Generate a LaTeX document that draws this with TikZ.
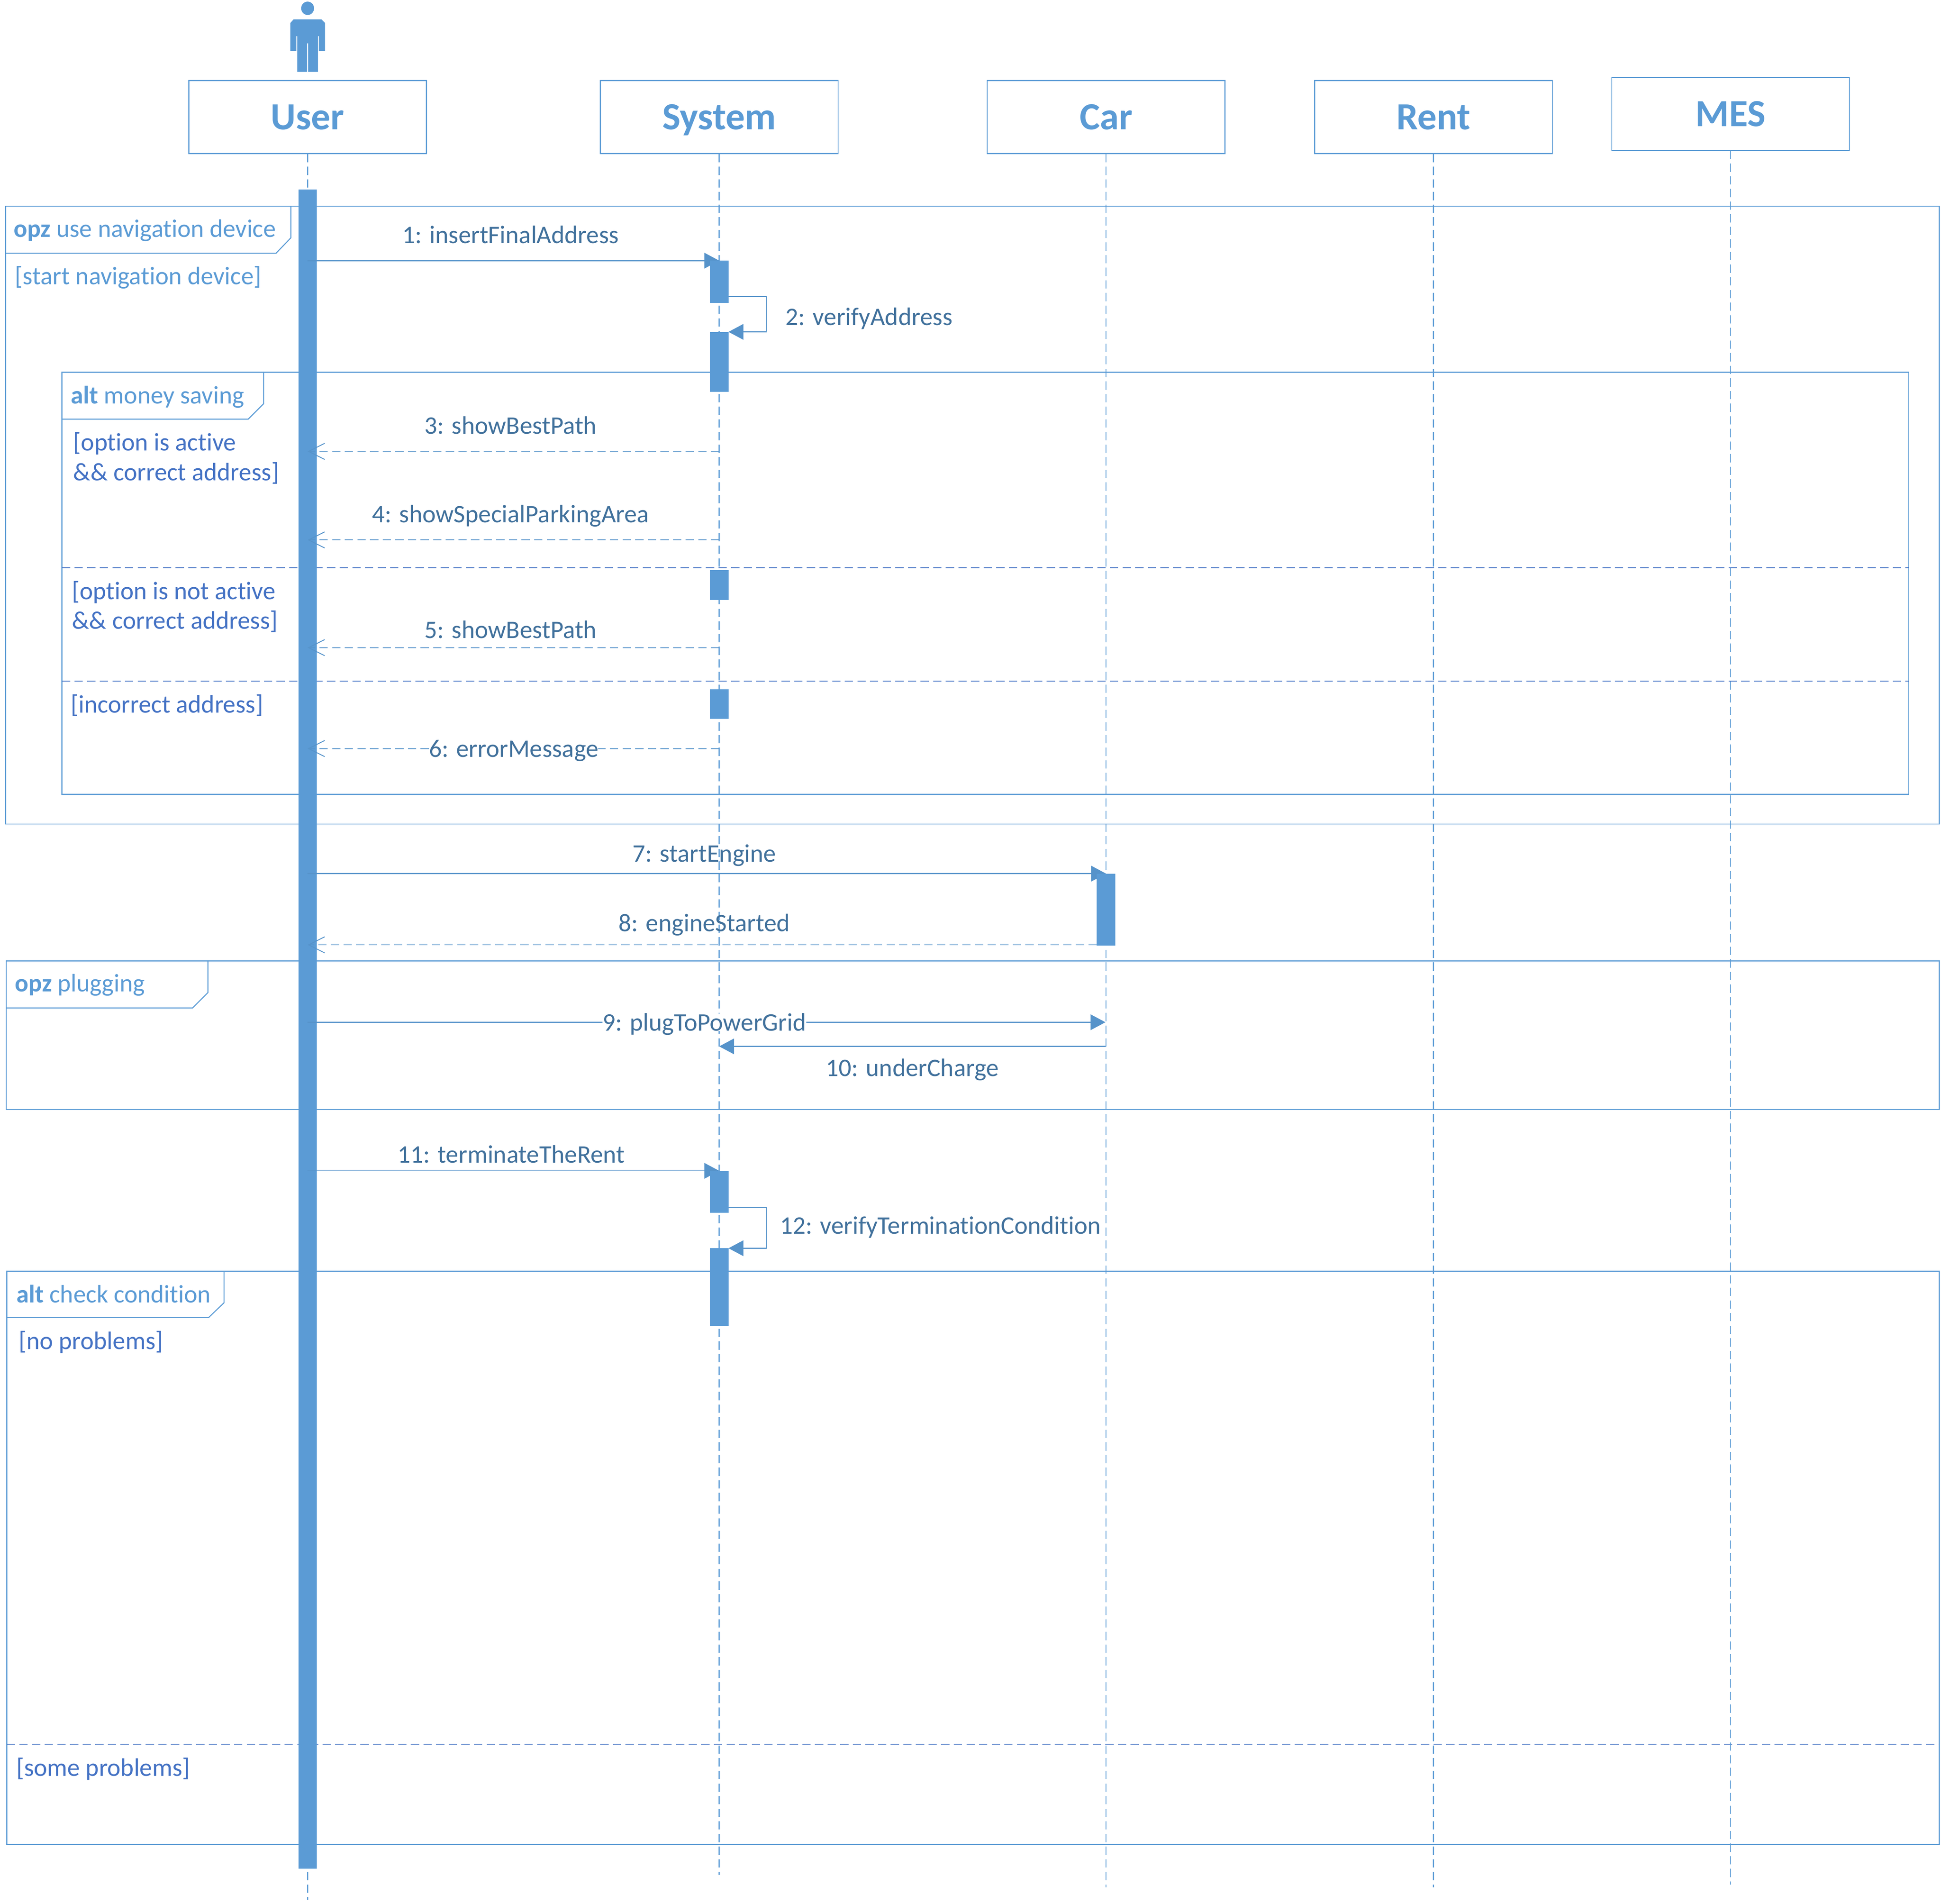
\documentclass[tikz,border=0pt]{standalone}
\usepackage{fontspec}
\setmainfont{Carlito}[Ligatures=NoCommon]
\usetikzlibrary{arrows.meta}
\definecolor{umlblue}{HTML}{5B9BD5}
\definecolor{msgblue}{HTML}{41719C}
\definecolor{guardblue}{HTML}{4472C4}
\tikzset{
    head/.style={draw=umlblue, line width=0.8pt, fill=white, minimum width=192pt, minimum height=59pt, inner sep=0pt, text=umlblue, text height=20pt, text depth=0pt, font=\fontsize{31}{36}\selectfont\bfseries},
    lifeline/.style={umlblue, line width=0.8pt, dash pattern=on 6.7pt off 3.5pt},
    frame/.style={draw=umlblue, line width=0.8pt},
    bar/.style={fill=umlblue, draw=none},
    tabtext/.style={anchor=west, inner sep=0pt, text=umlblue, font=\fontsize{20.4}{24}\selectfont},
    guardtext/.style={anchor=west, inner sep=0pt, text=guardblue, font=\fontsize{20.4}{24}\selectfont, align=left},
    split/.style={guardblue, line width=0.7pt, dash pattern=on 6.7pt off 3.5pt},
    msgtext/.style={inner sep=0pt, text=msgblue, text height=14pt, text depth=0pt, font=\fontsize{20.4}{24}\selectfont},
    call/.style={umlblue!95!black, line width=0.8pt, -{Triangle[length=12pt,width=12.6pt]}},
    reply/.style={umlblue!95!black, line width=0.7pt, dash pattern=on 6.7pt off 3.5pt, -{Straight Barb[length=13pt,width=13pt,line width=0.7pt]}},
}

\begin{document}
\begin{tikzpicture}[x=1pt,y=-1pt]
    \useasboundingbox (0,0) rectangle (1568,1537.5);

    % frames
    \draw[frame] (4.5,166.5) rectangle (1566.5,665.5);
    \draw[frame] (235,166.5) -- (235,192) -- (223,204.5) -- (4.5,204.5);
    \draw[frame] (50,300.5) rectangle (1542,641.5);
    \draw[frame] (213,300.5) -- (213,326) -- (200.5,338.5) -- (50,338.5);
    \draw[frame] (5,776) rectangle (1566.5,896);
    \draw[frame] (168,776) -- (168,801.5) -- (155.5,814) -- (5,814);
    \draw[frame] (5.5,1026.5) rectangle (1566.5,1489.5);
    \draw[frame] (181,1026.5) -- (181,1052) -- (168.5,1064) -- (5.5,1064);
    \draw[split] (50,458.5) -- (1542,458.5);
    \draw[split] (50,550) -- (1542,550);
    \draw[split] (5.5,1409) -- (1566.5,1409);

    % frame texts
    \node[tabtext] (tabnav) at (11,186) {\textbf{opz} use navigation device};
    \node[tabtext] (guardnav) at (12,224) {[start navigation device]};
    \node[tabtext] (tabmoney) at (57,320.5) {\textbf{alt} money saving};
    \node[guardtext] (guardactive) at (59,370) {[option is active\\\&\& correct address]};
    \node[guardtext] (guardnotactive) at (58,490) {[option is not active\\\&\& correct address]};
    \node[guardtext] (guardincorrect) at (57,569.5) {[incorrect address]};
    \node[tabtext] (tabplug) at (12,795.5) {\textbf{opz} plugging};
    \node[tabtext] (tabcheck) at (13,1045) {\textbf{alt} check condition};
    \node[guardtext] (guardnone) at (15,1084) {[no problems]};
    \node[guardtext] (guardsome) at (13,1428.5) {[some problems]};

    % actor
    \fill[umlblue] (248.5,6.7) ellipse (5.2 and 5.4);
    \fill[umlblue] (237.2,15.6) -- (259.6,15.6) -- (262.6,18.6) -- (262.6,41) -- (257.6,41) -- (257.6,29.2) -- (256.9,29.2) -- (256.9,58) -- (248.9,58) -- (248.9,35) -- (248.1,35) -- (248.1,58) -- (240.1,58) -- (240.1,29.2) -- (239.4,29.2) -- (239.4,41) -- (234.5,41) -- (234.5,18.6) -- cycle;

    % lifelines
    \node[head] (user) at (248.5,94.5) {User};
    \node[head] (system) at (581,94.5) {System};
    \node[head] (car) at (893.5,94.5) {Car};
    \node[head] (rent) at (1158,94.5) {Rent};
    \node[head] (mes) at (1398,92) {MES};
    \coordinate (userend) at (248.5,1534);
    \coordinate (systemend) at (581,1514);
    \coordinate (carend) at (893.5,1524);
    \coordinate (rentend) at (1158,1524);
    \coordinate (mesend) at (1398,1522);
    \draw[lifeline] (user) -- (userend);
    \draw[lifeline] (system) -- (systemend);
    \draw[lifeline] (car) -- (carend);
    \draw[lifeline] (rent) -- (rentend);
    \draw[lifeline] (mes) -- (mesend);

    \fill[bar] (241,153) rectangle (256,1509);

    % message ends
    \coordinate (m1a) at (248.5,210.5);
    \coordinate (m1b) at (581,210.5);
    \coordinate (m3a) at (581,364.5);
    \coordinate (m3b) at (248.5,364.5);
    \coordinate (m4a) at (581,436);
    \coordinate (m4b) at (248.5,436);
    \coordinate (m5a) at (581,523);
    \coordinate (m5b) at (248.5,523);
    \coordinate (m6a) at (581,604.5);
    \coordinate (m6b) at (248.5,604.5);
    \coordinate (m7a) at (248.5,705.5);
    \coordinate (m7b) at (893.5,705.5);
    \coordinate (m8a) at (886,763);
    \coordinate (m8b) at (248.5,763);
    \coordinate (m9a) at (248.5,825.5);
    \coordinate (m9b) at (893,825.5);
    \coordinate (m10a) at (893,845);
    \coordinate (m10b) at (581,845);
    \coordinate (m11a) at (248.5,945.5);
    \coordinate (m11b) at (581,945.5);

    \draw[call] (m1a) -- (m1b);
    \draw[reply] (m3a) -- (m3b);
    \draw[reply] (m4a) -- (m4b);
    \draw[reply] (m5a) -- (m5b);
    \draw[reply] (m6a) -- (m6b);
    \draw[call] (m7a) -- (m7b);
    \draw[reply] (m8a) -- (m8b);
    \draw[call] (m9a) -- (m9b);
    \draw[call] (m10a) -- (m10b);
    \draw[call] (m11a) -- (m11b);

    % activations
    \fill[bar] (573.5,210.5) rectangle (588.5,244.5);
    \fill[bar] (573.5,268) rectangle (588.5,316.5);
    \fill[bar] (573.5,460.5) rectangle (588.5,484.5);
    \fill[bar] (573.5,556.5) rectangle (588.5,580.5);
    \fill[bar] (573.5,945.5) rectangle (588.5,979.5);
    \fill[bar] (573.5,1008) rectangle (588.5,1071);
    \fill[bar] (886,705.5) rectangle (901,763.5);

    % self calls
    \coordinate (m2a) at (588.5,239.5);
    \coordinate (m2b) at (588.5,268);
    \coordinate (m12a) at (588.5,975);
    \coordinate (m12b) at (588.5,1008);
    \draw[call] (m2a) -- (619,239.5) -- (619,268) -- (m2b);
    \draw[call] (m12a) -- (619,975) -- (619,1008) -- (m12b);

    % message labels
    \node[msgtext] (l1) at (412.5,189.5) {1: insertFinalAddress};
    \node[msgtext,anchor=west] (l2) at (634.5,255.5) {2: verifyAddress};
    \node[msgtext] (l3) at (412.5,343.5) {3: showBestPath};
    \node[msgtext] (l4) at (412.5,415) {4: showSpecialParkingArea};
    \node[msgtext] (l5) at (412.5,508.5) {5: showBestPath};
    \node[msgtext,fill=white] (l6) at (415,604.5) {6: errorMessage};
    \node[msgtext] (l7) at (569,689) {7: startEngine};
    \node[msgtext] (l8) at (569,745) {8: engineStarted};
    \node[msgtext,fill=white] (l9) at (569,825.5) {9: plugToPowerGrid};
    \node[msgtext] (l10) at (737,862) {10: underCharge};
    \node[msgtext] (l11) at (413,932) {11: terminateTheRent};
    \node[msgtext,anchor=west] (l12) at (630,989.5) {12: verifyTerminationCondition};
\end{tikzpicture}
\end{document}
